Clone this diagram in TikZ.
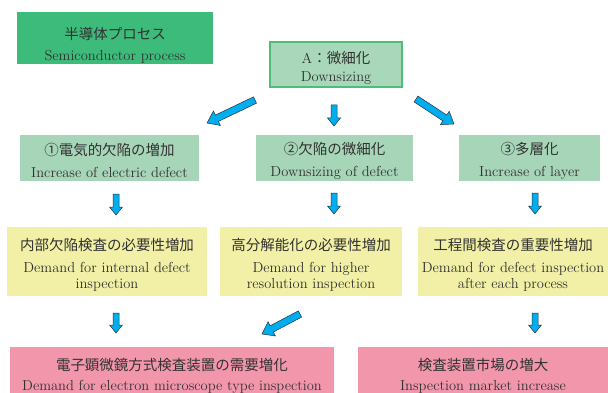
\documentclass[tikz,border=0pt]{standalone}
\usepackage{fontspec}
\newfontfamily\jp{Noto Sans CJK JP}
\usetikzlibrary{calc}
\definecolor{procgreen}{RGB}{61,187,122}
\definecolor{aboxfill}{RGB}{168,216,185}
\definecolor{aboxline}{RGB}{76,190,120}
\definecolor{rowgreen}{RGB}{166,213,184}
\definecolor{yboxfill}{RGB}{242,240,166}
\definecolor{pboxfill}{RGB}{242,150,172}
\definecolor{arrowblue}{RGB}{0,174,239}
\definecolor{arrowline}{RGB}{40,50,60}
\definecolor{txt}{RGB}{50,50,50}
\newcommand\tstrut[1]{\rule{0pt}{#1}}
\newcommand\blockarrow[4]{%
  \coordinate (#1m) at ($(#1e)!#4!(#1s)$);
  \filldraw[barrow] ($(#1s)!#2!90:(#1e)$) -- ($(#1m)!#2!90:(#1e)$) -- ($(#1m)!#3!90:(#1e)$) -- (#1e) -- ($(#1m)!#3!-90:(#1e)$) -- ($(#1m)!#2!-90:(#1e)$) -- ($(#1s)!#2!-90:(#1e)$) -- cycle;}
\begin{document}
\begin{tikzpicture}[x=1pt,y=-1pt,
  box/.style={rectangle, inner sep=0pt, align=center, text=txt, font=\fontsize{14.5}{22}\selectfont},
  procbox/.style={box, fill=procgreen, minimum width=196pt, minimum height=52pt, font=\fontsize{14.5}{21}\selectfont},
  abox/.style={box, fill=aboxfill, draw=aboxline, line width=2pt, minimum width=132pt, minimum height=45pt, font=\fontsize{14.5}{18}\selectfont},
  gbox/.style={box, fill=rowgreen, minimum height=46pt},
  ybox/.style={box, fill=yboxfill, minimum height=69pt},
  pbox/.style={box, fill=pboxfill, minimum height=58pt, font=\fontsize{14.5}{20}\selectfont},
  barrow/.style={fill=arrowblue, draw=arrowline, line width=0.5pt, line join=miter}]
\useasboundingbox (0,0) rectangle (608,393);

\node[procbox] (proc) at (115,38) {\tstrut{26pt}{\jp 半導体プロセス}\\Semiconductor process};
\node[abox] (A) at (336,64.5) {\tstrut{19pt}A{\jp ：微細化}\\Downsizing};

\node[gbox, minimum width=179pt] (g1) at (109.5,158) {\tstrut{18pt}{\jp ①電気的欠陥の増加}\\Increase of electric defect};
\node[gbox, minimum width=157pt] (g2) at (334.5,158) {\tstrut{18pt}{\jp ②欠陥の微細化}\\Downsizing of defect};
\node[gbox, minimum width=141pt] (g3) at (529.5,158) {\tstrut{18pt}{\jp ③多層化}\\Increase of layer};

\node[ybox, minimum width=200pt] (y1) at (107,261.5) {\tstrut{19pt}{\jp 内部欠陥検査の必要性増加}\\Demand for internal defect\\[-6pt]inspection};
\node[ybox, minimum width=182pt] (y2) at (311,261.5) {\tstrut{19pt}{\jp 高分解能化の必要性増加}\\Demand for higher\\[-6pt]resolution inspection};
\node[ybox, minimum width=190pt] (y3) at (513,261.5) {\tstrut{19pt}{\jp 工程間検査の重要性増加}\\Demand for defect inspection\\[-6pt]after each process};

\node[pbox, minimum width=324pt] (p1) at (172,376) {{\jp 電子顕微鏡方式検査装置の需要増化}\\Demand for electron microscope type inspection};
\node[pbox, minimum width=250pt] (p2) at (483,376) {{\jp 検査装置市場の増大}\\Inspection market increase};

% arrow end points
\coordinate (a1s) at (255,100); \coordinate (a1e) at (207,123);
\coordinate (a2s) at (416,99);  \coordinate (a2e) at (454,124);
\coordinate (a3s) at (334,105); \coordinate (a3e) at (334,126);
\coordinate (d1s) at (116,194); \coordinate (d1e) at (116,215);
\coordinate (d2s) at (334,193); \coordinate (d2e) at (334,214);
\coordinate (d3s) at (535,193); \coordinate (d3e) at (535,214);
\coordinate (e1s) at (116,313); \coordinate (e1e) at (116,333);
\coordinate (e2s) at (300,314); \coordinate (e2e) at (262,334);
\coordinate (e3s) at (535,313); \coordinate (e3e) at (535,333);

\blockarrow{a1}{3.5pt}{8pt}{11pt}
\blockarrow{a2}{3.5pt}{8pt}{11pt}
\blockarrow{a3}{3pt}{6.5pt}{8pt}
\blockarrow{d1}{3pt}{6.5pt}{8pt}
\blockarrow{d2}{3pt}{6.5pt}{8pt}
\blockarrow{d3}{3pt}{6.5pt}{8pt}
\blockarrow{e1}{3pt}{6.5pt}{8pt}
\blockarrow{e2}{3.5pt}{8pt}{11pt}
\blockarrow{e3}{3pt}{6.5pt}{8pt}
\end{tikzpicture}
\end{document}
